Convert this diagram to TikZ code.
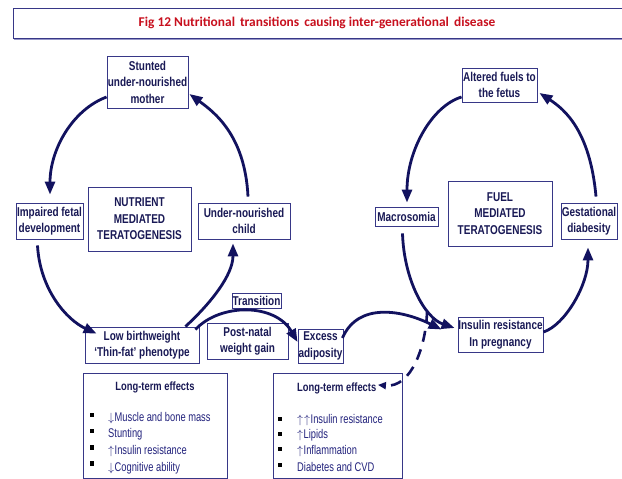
\documentclass[tikz,border=0pt]{standalone}
\usepackage{fontspec}
\setmainfont{Liberation Sans}
\newfontfamily\narrow{Liberation Sans}[FakeStretch=0.78]
\newfontfamily\ltitemfont{Liberation Sans}[FakeStretch=0.74]
\newfontfamily\titlefont{Carlito}
\usetikzlibrary{arrows.meta,calc}
\definecolor{arrc}{RGB}{18,18,95}
\definecolor{boxc}{RGB}{55,55,135}
\definecolor{txtc}{RGB}{25,25,85}
\definecolor{itemc}{RGB}{35,35,125}
\definecolor{titlered}{RGB}{200,16,30}
\definecolor{shadowc}{RGB}{150,150,200}
\newcommand{\dnar}{\(\downarrow\)\kern0.5pt}
\newcommand{\upar}{\(\uparrow\)\kern0.5pt}
\tikzset{
  box/.style={draw=boxc, line width=0.9pt, fill=white, align=center, inner sep=0pt,
    text=txtc, font=\narrow\bfseries\fontsize{12.8}{16.5}\selectfont},
  arr/.style={line width=2.8pt, draw=arrc, -{Triangle[length=13pt,width=10pt]}},
  darr/.style={line width=2.6pt, draw=arrc, dash pattern=on 11pt off 8pt, -{Triangle[length=8pt,width=7pt]}},
  ltbox/.style={draw=boxc, line width=0.9pt, fill=white, inner sep=0pt},
  lthead/.style={inner sep=0pt, text=txtc, font=\narrow\bfseries\fontsize{12}{13}\selectfont},
  item/.style={anchor=base west, inner sep=0pt, text=itemc, font=\ltitemfont\fontsize{12.6}{13}\selectfont},
  bul/.style={fill=black, minimum width=4pt, minimum height=4.5pt, inner sep=0pt}
}
\begin{document}
\begin{tikzpicture}[x=1pt,y=-1pt]
\useasboundingbox[fill=white] (0,0) rectangle (622,479);
% title frame
\draw[shadowc, line width=2pt] (14,39) -- (622,39);
\draw[boxc, line width=0.9pt] (622,8) -- (13,8) -- (13,38) -- (622,38);
\node[inner sep=0pt, text=titlered, font=\titlefont\bfseries\fontsize{13.4}{15}\selectfont] (title) at (317,23)
  {Fig 12 Nutritional\hspace{2pt} transitions\hspace{2pt} causing inter-generational\hspace{2pt} disease};

% left cycle boxes
\node[box, minimum width=81pt, minimum height=52pt] (mother) at (147.5,82) {Stunted\\under-nourished\\mother};
\node[box, minimum width=67pt, minimum height=36pt] (fetal) at (49.5,221) {Impaired fetal\\development};
\node[box, minimum width=103pt, minimum height=64pt] (nmt) at (139.5,219) {NUTRIENT\\MEDIATED\\TERATOGENESIS};
\node[box, minimum width=92pt, minimum height=36pt] (child) at (244,221) {Under-nourished\\child};
\node[box, minimum width=114pt, minimum height=36pt] (lbw) at (142,345) {Low birthweight\\‘Thin-fat’ phenotype};
\node[box, minimum width=49pt, minimum height=15pt] (trans) at (256.5,300.5) {Transition};
\node[box, minimum width=81pt, minimum height=36pt] (post) at (247.5,341) {Post-natal\\weight gain};
\node[box, minimum width=45pt, minimum height=34pt] (adip) at (320.5,346) {Excess\\adiposity};

% right cycle boxes
\node[box, minimum width=75pt, minimum height=34pt] (fuels) at (499.5,85) {Altered fuels to\\the fetus};
\node[box, minimum width=63pt, minimum height=19pt] (macro) at (406.5,216.5) {Macrosomia};
\node[box, minimum width=104pt, minimum height=65pt] (fmt) at (500,213.5) {FUEL\\MEDIATED\\TERATOGENESIS};
\node[box, minimum width=56pt, minimum height=36pt] (gest) at (589,221) {Gestational\\diabesity};
\node[box, minimum width=85pt, minimum height=35pt] (ir) at (500.5,334.5) {Insulin resistance\\In pregnancy};

% long-term boxes
\node[ltbox, minimum width=144pt, minimum height=105pt] (ltl) at (155,425.5) {};
\node[ltbox, minimum width=129pt, minimum height=105pt] (ltr) at (337.5,425.5) {};

\node[lthead, anchor=base] (ltlh) at (155,390) {Long-term effects};
\node[bul] (lb1) at (92,415) {};
\node[bul] (lb2) at (92,431) {};
\node[bul] (lb3) at (92,447.5) {};
\node[bul] (lb4) at (92,463.5) {};
\node[item] (li1) at (108,421.5) {\dnar Muscle and bone mass};
\node[item] (li2) at (108,437.5) {Stunting};
\node[item] (li3) at (108,454) {\upar Insulin resistance};
\node[item] (li4) at (108,471) {\dnar Cognitive ability};

\node[lthead, anchor=base west] (ltrh) at (297,391) {Long-term effects};
\node[bul] (rb1) at (280,419) {};
\node[bul] (rb2) at (280,434) {};
\node[bul] (rb3) at (280,449) {};
\node[bul] (rb4) at (280,465) {};
\node[item] (ri1) at (297,423.5) {\(\uparrow\)\kern1pt\upar Insulin resistance};
\node[item] (ri2) at (297,438.5) {\upar Lipids};
\node[item] (ri3) at (297,454.5) {\upar Inflammation};
\node[item] (ri4) at (297,471) {Diabetes and CVD};

% left cycle arrows
\draw[arr] ($(mother.west)+(0,15)$) .. controls (72,110) and (50,150) .. ($(fetal.north)+(0.5,-8)$);
\draw[arr] ($(child.north)+(4,-6)$) .. controls (245,135) and (214,112) .. ($(mother.east)+(1,12)$);
\draw[arr] ($(fetal.south)+(-12,6)$) .. controls (40,290) and (67,320) .. ($(lbw.north west)+(12,7)$);
\draw[arr] ($(lbw.north east)+(-14,0)$) .. controls (211,303) and (233,275) .. ($(child.south)+(-11,4)$);
% transition
\draw[arr] ($(lbw.north east)+(-4,3)$) .. controls (220,303) and (275,303) .. ($(adip.west)+(0,-4)$);
\draw[arr] ($(adip.east)+(-1,-8)$) .. controls (358,302) and (402,310) .. ($(ir.west)+(-16,-5)$);
% right cycle arrows
\draw[arr] ($(fuels.west)+(0,12)$) .. controls (432,106) and (407,150) .. ($(macro.north)+(0.5,-4)$);
\draw[arr] ($(gest.north)+(7,-6)$) .. controls (590,130) and (564,109) .. ($(fuels.east)+(2,8)$);
\draw[arr] ($(macro.south)+(-4,7)$) .. controls (404,280) and (425,318) .. ($(ir.west)+(-3,-6.5)$);
\draw[arr] ($(ir.east)+(0,-2.5)$) .. controls (565,325) and (588,285) .. ($(gest.south)+(-1,8)$);
% dashed link
\coordinate (dstart) at (427,312);
\draw[darr] (dstart) .. controls (426,345) and (412,388) .. ($(ltrh.east)+(1.5,-3)$);
\end{tikzpicture}
\end{document}
